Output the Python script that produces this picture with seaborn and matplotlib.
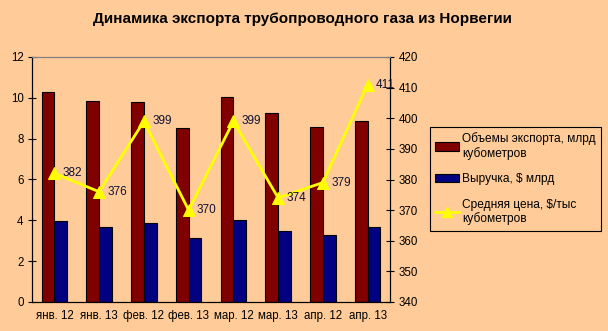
import numpy as np
import pandas as pd
import matplotlib
matplotlib.use("Agg")
import matplotlib.pyplot as plt
import seaborn as sns
from matplotlib.patches import Patch
from matplotlib.lines import Line2D

months = ["янв. 12", "янв. 13", "фев. 12", "фев. 13",
          "мар. 12", "мар. 13", "апр. 12", "апр. 13"]
export_volume = [10.28, 9.83, 9.79, 8.51, 10.03, 9.26, 8.56, 8.86]
revenue = [3.95, 3.69, 3.86, 3.14, 4.00, 3.46, 3.28, 3.67]
avg_price = [382, 376, 399, 370, 399, 374, 379, 411]

label_volume = "Объемы экспорта, млрд\nкубометров"
label_revenue = "Выручка, $ млрд"
label_price = "Средняя цена, $/тыс\nкубометров"
title = "Динамика экспорта трубопроводного газа из Норвегии"

bg = "#FFCC99"
red = "#800000"
navy = "#000080"
yellow = "#FFFF00"

sns.set_style("white")
plt.rcParams["font.family"] = ["Liberation Sans", "DejaVu Sans"]
plt.rcParams["font.size"] = 8
plt.rcParams["text.color"] = "black"
plt.rcParams["xtick.color"] = "black"
plt.rcParams["ytick.color"] = "black"
plt.rcParams["xtick.labelcolor"] = "black"
plt.rcParams["ytick.labelcolor"] = "black"

df = pd.DataFrame({
    "month": months * 2,
    "value": export_volume + revenue,
    "series": [label_volume] * len(months) + [label_revenue] * len(months),
})

fig = plt.figure(figsize=(6.08, 3.31), dpi=100, facecolor=bg)
ax = fig.add_axes([32 / 608, 1 - 302 / 331, (390 - 32) / 608, (302 - 57) / 331])
ax.set_facecolor(bg)

sns.barplot(data=df, x="month", y="value", hue="series", order=months,
            palette=[red, navy], width=4 / 7, gap=0, dodge=True,
            edgecolor="black", linewidth=0.8, legend=False, ax=ax,
            errorbar=None, saturation=1)

ax.set_xlim(-0.5, len(months) - 0.5)
ax.set_ylim(0, 12)
ax.set_yticks(np.arange(0, 13, 2))
ax.set_xlabel("")
ax.set_ylabel("")
ax.set_xticks(np.arange(len(months)))
ax.set_xticklabels(months)
ax.set_xticks(np.arange(len(months) + 1) - 0.5, minor=True)
ax.tick_params(axis="x", which="major", length=0, pad=6, labelsize=8.3)
ax.tick_params(axis="x", which="minor", direction="inout", length=6,
               width=0.8, color="black")
ax.tick_params(axis="y", direction="inout", length=6, width=0.8,
               color="black", labelsize=8.3, pad=3, left=True)

ax2 = ax.twinx()
sns.lineplot(x=np.arange(len(months)), y=avg_price, ax=ax2, color=yellow,
             linewidth=2, marker="^", markersize=8, markeredgecolor=yellow,
             legend=False)
ax2.set_ylim(340, 420)
ax2.set_yticks(np.arange(340, 421, 10))
ax2.tick_params(axis="y", direction="inout", length=6, width=0.8,
                color="black", labelsize=8.3, pad=3, right=True)
for i, v in enumerate(avg_price):
    ax2.annotate(str(v), (i, v), xytext=(6, 0), textcoords="offset points",
                 va="center", ha="left", fontsize=8.5, color="#111133")

for a in (ax, ax2):
    for side in ("left", "right", "bottom"):
        a.spines[side].set_color("black")
        a.spines[side].set_linewidth(0.8)
    a.spines["top"].set_color("#808080")
    a.spines["top"].set_linewidth(0.8)

fig.text(302 / 608, 1 - 18.5 / 331, title, ha="center", va="center",
         fontsize=11, fontweight="bold", color="black")

handles = [
    Patch(facecolor=red, edgecolor="black", linewidth=0.8),
    Patch(facecolor=navy, edgecolor="black", linewidth=0.8),
    Line2D([], [], color=yellow, linewidth=2, marker="^", markersize=7),
]
leg = fig.legend(handles, [label_volume, label_revenue, label_price],
                 loc="upper left", bbox_to_anchor=(430 / 608, 1 - 127 / 331),
                 frameon=True, fancybox=False, facecolor=bg, edgecolor="black",
                 framealpha=1, fontsize=8.6, handlelength=2.0, handleheight=0.7,
                 handletextpad=0.25, labelspacing=1.1, borderpad=0.45,
                 borderaxespad=0)
leg.get_frame().set_linewidth(0.8)

fig.savefig("out.png", dpi=100, facecolor=bg)
